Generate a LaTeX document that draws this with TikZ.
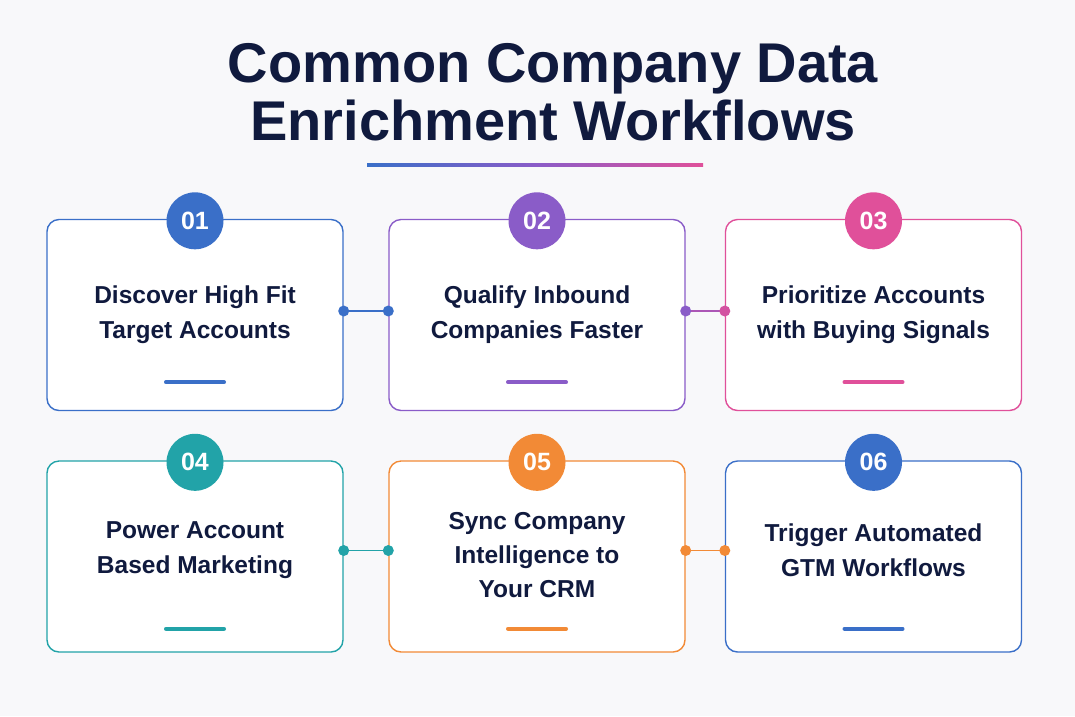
\documentclass[tikz,border=0pt]{standalone}
\usepackage{fontspec}
\setmainfont{Liberation Sans}
\usetikzlibrary{calc}
\definecolor{bgc}{HTML}{F8F8FA}
\definecolor{navy}{HTML}{101A3E}
\definecolor{cblue}{HTML}{3A6FC8}
\definecolor{cpurple}{HTML}{8A5CC8}
\definecolor{cpink}{HTML}{E0509A}
\definecolor{cteal}{HTML}{22A3A8}
\definecolor{corange}{HTML}{F28A36}
\tikzset{
  card/.style={draw=#1, line width=1.4pt, fill=white, rounded corners=12pt, minimum width=296pt, minimum height=191pt, inner sep=0pt},
  badge/.style={circle, fill=#1, minimum size=57pt, inner sep=0pt, text=white, font=\fontsize{25}{25}\selectfont\bfseries},
  cardtext/.style={align=center, text=navy, font=\fontsize{24.5}{35}\selectfont\bfseries},
  bar/.style={line width=4pt, draw=#1, line cap=round},
  link/.style={line width=1.5pt, draw=#1},
  dot/.style={circle, fill=#1, minimum size=11pt, inner sep=0pt},
}
\begin{document}
\begin{tikzpicture}[x=1pt,y=-1pt]
\fill[bgc] (0,0) rectangle (1075,716);
\useasboundingbox (0,0) rectangle (1075,716);
% title
\node[align=center, text=navy, font=\fontsize{56}{58}\selectfont\bfseries] (title) at (553,92) {Common Company Data\\Enrichment Workflows};
\shade[left color=cblue, right color=cpink, middle color=cpurple] (367,163.5) rectangle (703,166.5);
% cards
\node[card=cblue] (b1) at (195,315) {};
\node[card=cpurple] (b2) at (537,315) {};
\node[card=cpink] (b3) at (873.5,315) {};
\node[card=cteal] (b4) at (195,556.5) {};
\node[card=corange] (b5) at (537,556.5) {};
\node[card=cblue] (b6) at (873.5,556.5) {};
% badges
\node[badge=cblue] (n1) at ([yshift=-2pt]b1.north) {01};
\node[badge=cpurple] (n2) at ([yshift=-2pt]b2.north) {02};
\node[badge=cpink] (n3) at ([yshift=-2pt]b3.north) {03};
\node[badge=cteal] (n4) at ([yshift=-2pt]b4.north) {04};
\node[badge=corange] (n5) at ([yshift=-2pt]b5.north) {05};
\node[badge=cblue] (n6) at ([yshift=-2pt]b6.north) {06};
% texts
\node[cardtext] (t1) at ([yshift=0pt]b1.center) {Discover High Fit\\Target Accounts};
\node[cardtext] (t2) at ([yshift=0pt]b2.center) {Qualify Inbound\\Companies Faster};
\node[cardtext] (t3) at ([yshift=0pt]b3.center) {Prioritize Accounts\\with Buying Signals};
\node[cardtext] (t4) at ([yshift=6pt]b4.center) {Power Account\\Based Marketing};
\node[cardtext, font=\fontsize{24.5}{34}\selectfont\bfseries] (t5) at ([yshift=1pt]b5.center) {Sync Company\\Intelligence to\\Your CRM};
\node[cardtext] (t6) at ([yshift=6pt]b6.center) {Trigger Automated\\GTM Workflows};
% bars
\draw[bar=cblue] ([xshift=-29pt,yshift=29pt]b1.south) -- ([xshift=29pt,yshift=29pt]b1.south);
\draw[bar=cpurple] ([xshift=-29pt,yshift=29pt]b2.south) -- ([xshift=29pt,yshift=29pt]b2.south);
\draw[bar=cpink] ([xshift=-29pt,yshift=29pt]b3.south) -- ([xshift=29pt,yshift=29pt]b3.south);
\draw[bar=cteal] ([xshift=-29pt,yshift=24pt]b4.south) -- ([xshift=29pt,yshift=24pt]b4.south);
\draw[bar=corange] ([xshift=-29pt,yshift=24pt]b5.south) -- ([xshift=29pt,yshift=24pt]b5.south);
\draw[bar=cblue] ([xshift=-29pt,yshift=24pt]b6.south) -- ([xshift=29pt,yshift=24pt]b6.south);
% connectors
\coordinate (c1a) at ([yshift=4pt]b1.east); \coordinate (c1b) at ([yshift=4pt]b2.west);
\coordinate (c2a) at ([yshift=4pt]b2.east); \coordinate (c2b) at ([yshift=4pt]b3.west);
\coordinate (c3a) at ([yshift=6pt]b4.east); \coordinate (c3b) at ([yshift=6pt]b5.west);
\coordinate (c4a) at ([yshift=6pt]b5.east); \coordinate (c4b) at ([yshift=6pt]b6.west);
\draw[link=cblue] (c1a) -- (c1b);
\draw[link=cpurple!60!cpink] (c2a) -- (c2b);
\draw[link=cteal] (c3a) -- (c3b);
\draw[link=corange] (c4a) -- (c4b);
\node[dot=cblue] at (c1a) {}; \node[dot=cblue] at (c1b) {};
\node[dot=cpurple] at (c2a) {}; \node[dot=cpink!85!cpurple] at (c2b) {};
\node[dot=cteal] at (c3a) {}; \node[dot=cteal] at (c3b) {};
\node[dot=corange] at (c4a) {}; \node[dot=corange] at (c4b) {};
\end{tikzpicture}
\end{document}
